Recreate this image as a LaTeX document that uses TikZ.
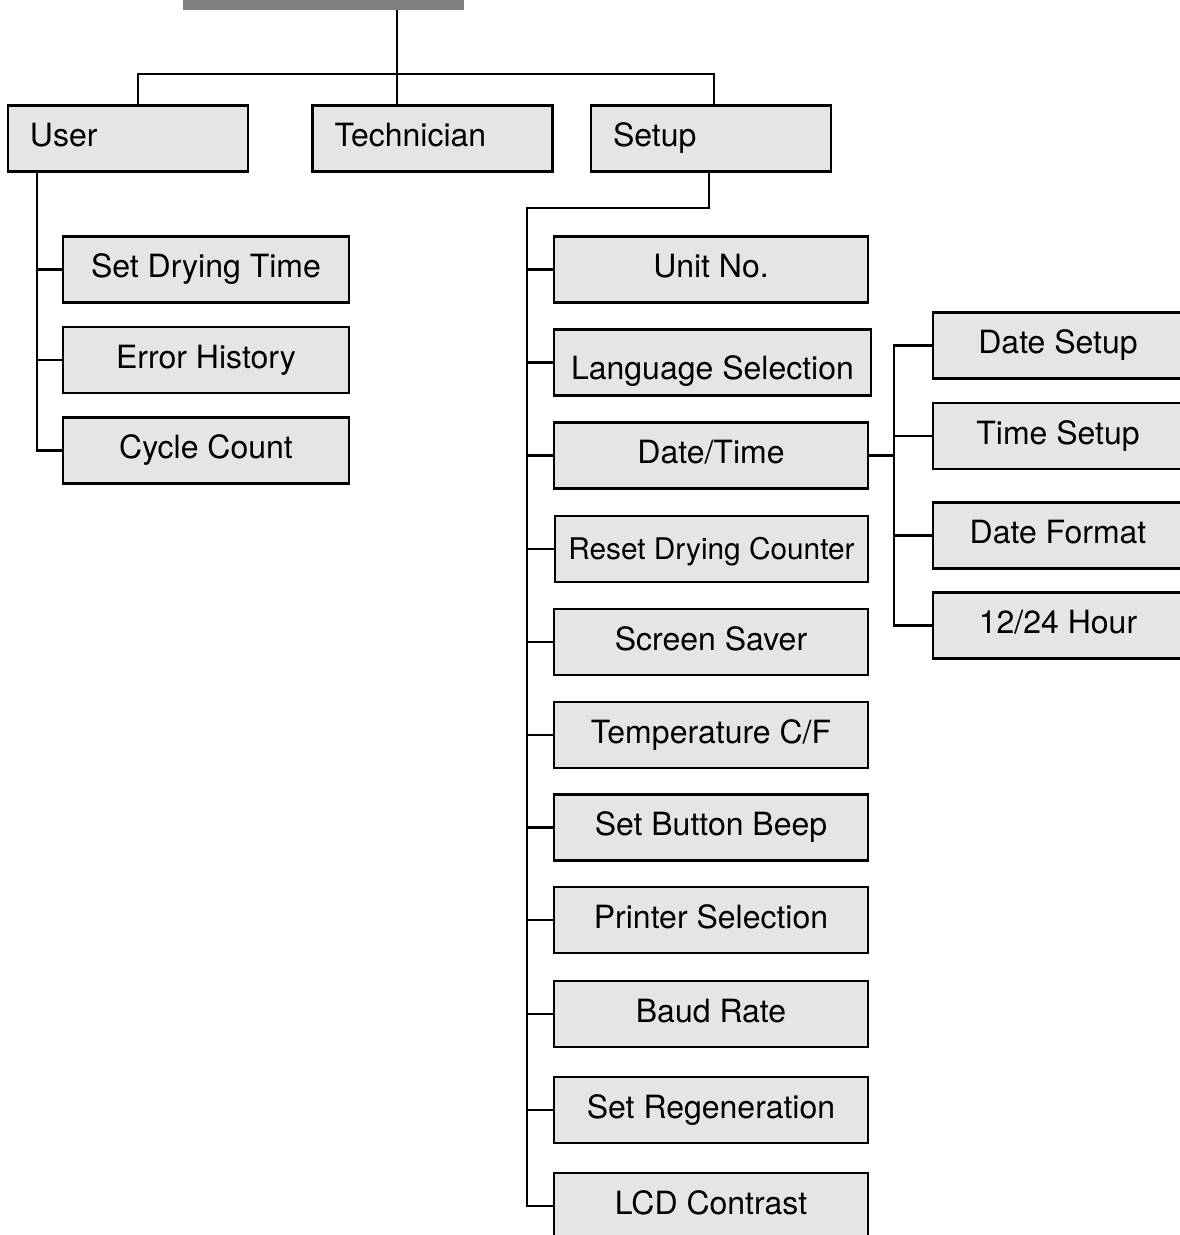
\documentclass[tikz,border=0pt]{standalone}
\usepackage{fontspec}
\setmainfont{TeX Gyre Heros}
\definecolor{boxgray}{RGB}{229,229,229}
\definecolor{bargray}{RGB}{128,128,128}
\begin{document}
\begin{tikzpicture}[x=1pt,y=-1pt,
  box/.style={draw=black, line width=2.2pt, fill=boxgray, minimum height=66pt,
    inner sep=0pt, text height=23pt, text depth=7pt,
    font=\fontsize{32}{37}\selectfont},
  topbox/.style={box, text width=196pt, align=left, inner xsep=22pt},
  subbox/.style={box, minimum width=#1},
  conn/.style={line width=2.3pt}]
\useasboundingbox (0,0) rectangle (1179,1235);

% root (cut off at the top)
\node[fill=bargray, minimum width=281pt, minimum height=30pt, inner sep=0pt] (root) at (323.5,-5) {};

% top level
\node[topbox] (user) at (128,138.5) {User};
\node[topbox] (tech) at (432.5,138.5) {Technician};
\node[topbox] (setup) at (711,138.5) {Setup};

% user children
\node[subbox=286pt] (sdt) at (206,269.5) {Set Drying Time};
\node[subbox=286pt] (eh) at (206,360) {Error History};
\node[subbox=286pt] (cc) at (206,450.5) {Cycle Count};

% setup children
\node[subbox=314pt] (unit) at (711,269.5) {Unit No.};
\node[subbox=317pt, text height=40pt] (lang) at (712.5,362.5) {Language Selection};
\node[subbox=314pt] (dt) at (711,455.5) {Date/Time};
\node[subbox=313pt, font=\fontsize{29.8}{34}\selectfont, text height=28.4pt] (rdc) at (711.5,549) {Reset Drying Counter};
\node[subbox=314pt] (ss) at (711,642) {Screen Saver};
\node[subbox=314pt] (temp) at (711,735) {Temperature C/F};
\node[subbox=314pt] (beep) at (711,827.5) {Set Button Beep};
\node[subbox=314pt] (prn) at (711,920) {Printer Selection};
\node[subbox=314pt] (baud) at (711,1014) {Baud Rate};
\node[subbox=314pt] (regen) at (711,1110) {Set Regeneration};
\node[subbox=314pt] (lcd) at (711,1206) {LCD Contrast};

% date/time children
\node[subbox=250pt] (ds) at (1058,345.5) {Date Setup};
\node[subbox=250pt] (ts) at (1058,436) {Time Setup};
\node[subbox=250pt] (df) at (1058,535.5) {Date Format};
\node[subbox=250pt] (h12) at (1058,625.5) {12/24 Hour};

% connectors: top level
\coordinate (t) at (397,74);
\coordinate (hl) at (138,74);
\coordinate (hr) at (714,74);
\draw[conn] (t |- root.south) -- (t |- tech.north);
\draw[conn] (hl |- user.north) -- (hl) -- (hr) -- (hr |- setup.north);

% user branch
\coordinate (ux) at (37,0);
\draw[conn] (ux |- user.south) -- (ux |- cc.west) -- (cc.west);
\draw[conn] (ux |- sdt.west) -- (sdt.west);
\draw[conn] (ux |- eh.west) -- (eh.west);

% setup branch
\coordinate (sd) at (709,208);
\coordinate (sx) at (527,208);
\draw[conn] (sd |- setup.south) -- (sd) -- (sx) -- (sx |- lcd.west) -- (lcd.west);
\foreach \n in {unit,lang,dt,rdc,ss,temp,beep,prn,baud,regen}
  \draw[conn] (sx |- \n.west) -- (\n.west);

% date/time branch
\coordinate (dx) at (894,0);
\draw[conn] (dt.east) -- (dx |- dt.east);
\draw[conn] (ds.west) -- (dx |- ds.west) -- (dx |- h12.west) -- (h12.west);
\draw[conn] (dx |- ts.west) -- (ts.west);
\draw[conn] (dx |- df.west) -- (df.west);
\end{tikzpicture}
\end{document}
